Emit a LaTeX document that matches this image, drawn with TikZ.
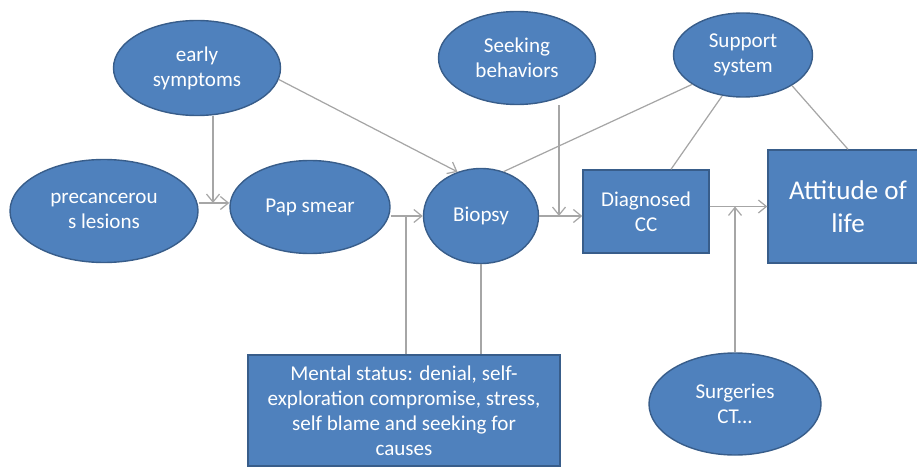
\documentclass[tikz,border=0pt]{standalone}
\usepackage{fontspec}
\setmainfont{Carlito}
\usetikzlibrary{arrows.meta,shapes.geometric}
\definecolor{boxfill}{HTML}{4F81BD}
\definecolor{boxedge}{HTML}{385D8A}
\definecolor{linkgray}{HTML}{A6A6A6}

\begin{document}
\begin{tikzpicture}[
    oval/.style={ellipse, draw=boxedge, fill=boxfill, line width=0.8pt, inner sep=0pt,
      text=white, align=center, font=\fontsize{12}{14.2}\selectfont},
    card/.style={rectangle, draw=boxedge, fill=boxfill, line width=0.8pt, inner sep=0pt,
      text=white, align=center, font=\fontsize{12}{14.2}\selectfont},
    link/.style={draw=linkgray, line width=0.7pt},
    arr/.style={link, -{Straight Barb[length=1.6mm,width=2.6mm]}}
  ]
  \useasboundingbox (0,0) rectangle (18.34,9.32);

  \node[oval, minimum width=3.34cm, minimum height=1.90cm] (early) at (3.94,7.96) {early\\symptoms};
  \node[oval, minimum width=3.76cm, minimum height=2.06cm] (pre) at (2.08,5.10) {precancerou\\s lesions};
  \node[oval, minimum width=3.20cm, minimum height=1.86cm] (pap) at (6.20,5.18) {Pap smear};
  \node[oval, minimum width=2.30cm, minimum height=1.90cm] (biopsy) at (9.62,5.00) {Biopsy};
  \node[oval, minimum width=3.14cm, minimum height=1.86cm] (seek) at (10.34,8.16) {Seeking\\behaviors};
  \node[oval, minimum width=2.78cm, minimum height=1.68cm] (support) at (14.86,8.22) {Support\\system};
  \node[card, minimum width=2.52cm, minimum height=1.66cm] (diag) at (12.92,5.09) {Diagnosed\\CC};
  \node[card, minimum width=3.20cm, minimum height=2.26cm, font=\fontsize{15.4}{19}\selectfont] (att) at (16.96,5.19) {Attitude of\\life};
  \node[card, minimum width=6.24cm, minimum height=2.22cm] (mental) at (8.08,1.11)
    {Mental status: denial, self-\\exploration compromise, stress,\\self blame and seeking for\\causes};
  \node[oval, minimum width=3.44cm, minimum height=2.04cm] (surg) at (14.70,1.24) {Surgeries\\CT...};

  % junctions on the horizontal links
  \coordinate (j1) at (4.26,5.26);
  \coordinate (j2) at (8.12,4.98);
  \coordinate (j3) at (11.18,5.00);

  \draw[arr] (early.south -| j1) -- (j1);
  \draw[arr] (pre.east |- j1) -- (pap.west |- j1);
  \draw[arr] (early.-8) -- (biopsy.118);
  \draw[arr] (pap.east |- biopsy) -- (biopsy.west);
  \draw[link] (mental.north -| j2) -- (j2);
  \draw[link] (biopsy.south) -- (biopsy.south |- mental.north);
  \draw[arr] (seek.south -| j3) -- (j3);
  \draw[arr] (biopsy.east) -- (biopsy.east -| diag.west);
  \draw[link] (support.210) -- (biopsy.63);
  \draw[link] (support.243) -- ([xshift=0.5cm]diag.north);
  \draw[link] (support.-32) -- (att.north);
  \draw[arr] (diag.east |- att) -- (att.west);
  \draw[arr] (surg.north) -- (surg.north |- att.west);
\end{tikzpicture}
\end{document}
